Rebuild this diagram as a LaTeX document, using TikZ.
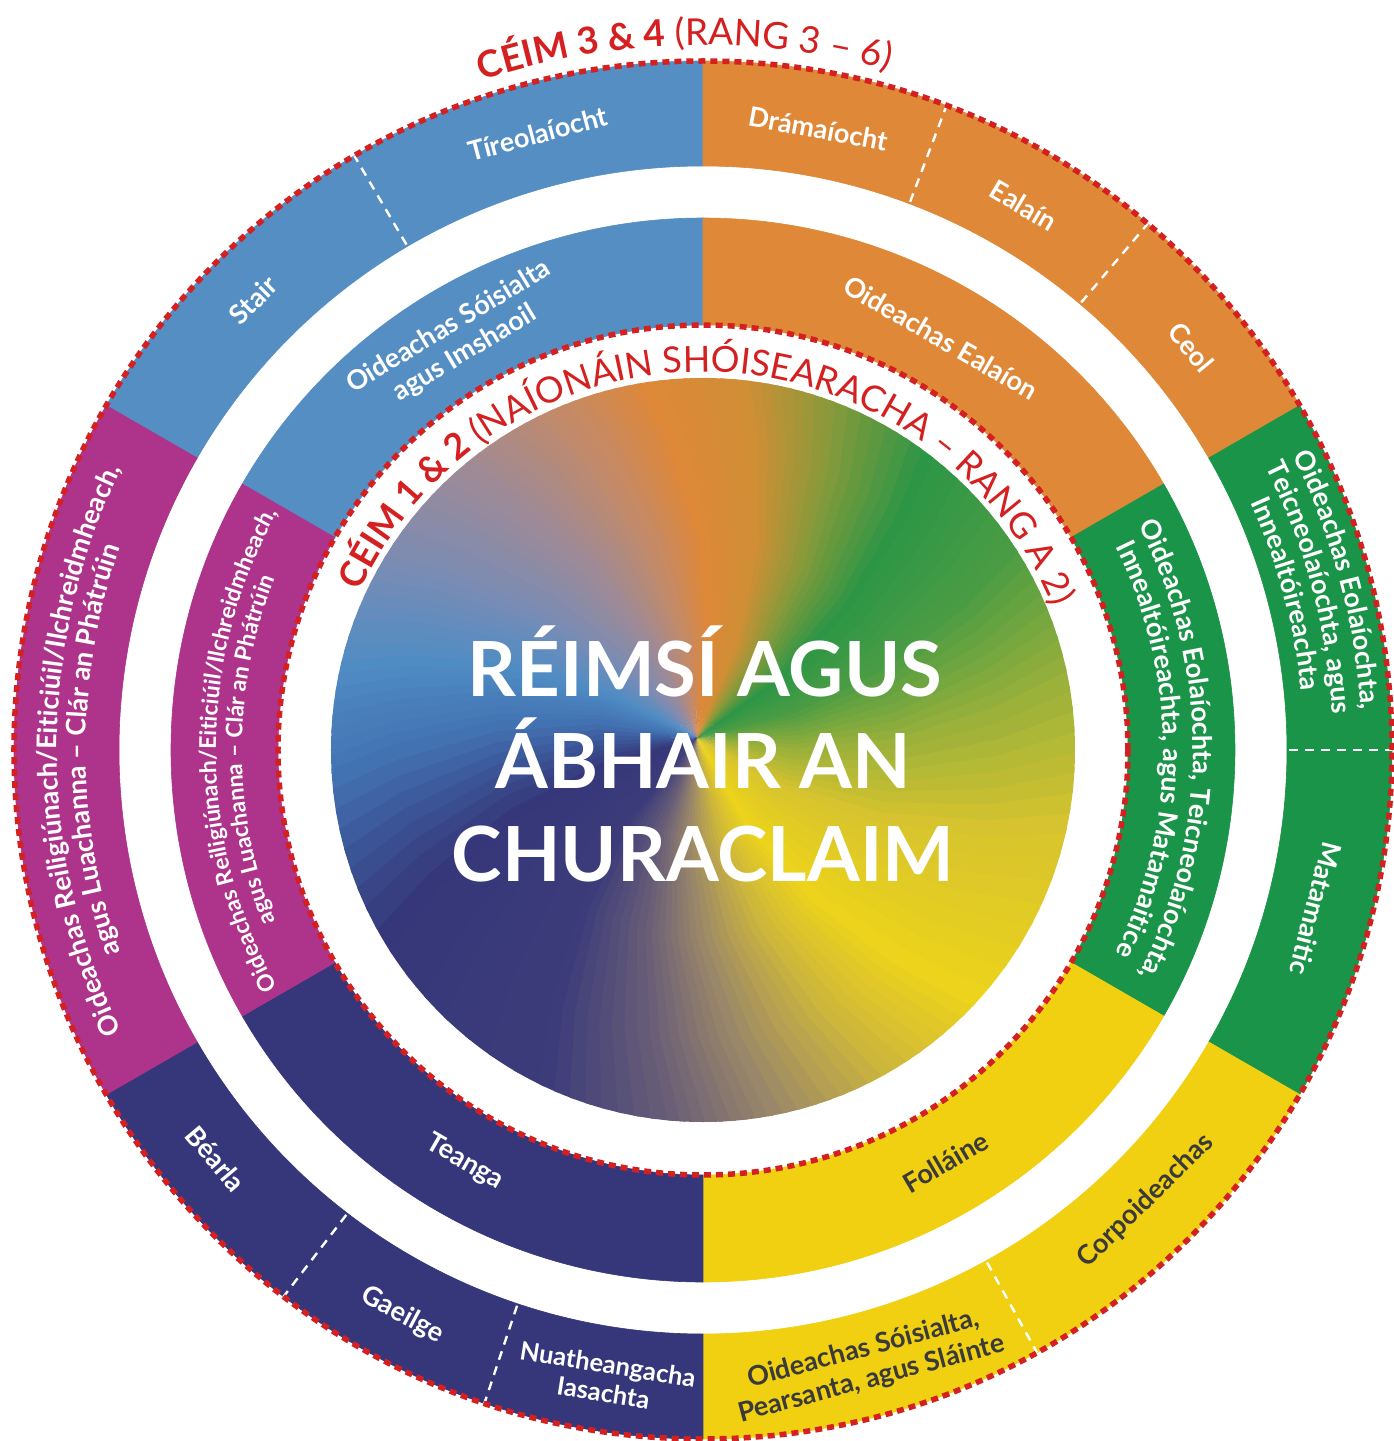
\documentclass[tikz,border=0pt]{standalone}
\usepackage{fontspec}
\setmainfont{Lato}
\usetikzlibrary{decorations.text}
\definecolor{cblue}{HTML}{558EC2}
\definecolor{corange}{HTML}{DF8838}
\definecolor{cgreen}{HTML}{1A9448}
\definecolor{cyellow}{HTML}{F0D011}
\definecolor{cnavy}{HTML}{35377A}
\definecolor{cmag}{HTML}{AE348B}
\definecolor{cred}{HTML}{D42020}
\definecolor{cdark}{HTML}{3A3A3A}
% gradient stops
\definecolor{sA}{HTML}{35377A}
\definecolor{sB}{HTML}{3D3C7A}
\definecolor{sC}{HTML}{6A5F77}
\definecolor{sD}{HTML}{9A8769}
\definecolor{sE}{HTML}{CDB63C}
\definecolor{sF}{HTML}{EDD31B}
\definecolor{sG}{HTML}{D6C32F}
\definecolor{sH}{HTML}{92AE3C}
\definecolor{sI}{HTML}{4A9C44}
\definecolor{sJ}{HTML}{2C9646}
\definecolor{sK}{HTML}{8A9A3A}
\definecolor{sL}{HTML}{D08E35}
\definecolor{sM}{HTML}{DE8838}
\definecolor{sN}{HTML}{C48A68}
\definecolor{sO}{HTML}{9E8A96}
\definecolor{sP}{HTML}{7A8CB4}
\definecolor{sQ}{HTML}{4F8CC4}
\definecolor{sR}{HTML}{4272B2}
\newcommand\mylabfont{\bfseries\fontsize{27}{31}\selectfont}
\newcommand\mysmallfont{\bfseries\fontsize{23}{27}\selectfont}
\newcommand\ceimbold{\color{cred}\bfseries\fontsize{37}{40}\selectfont}
\newcommand\ceimreg{\color{cred}\mdseries\fontsize{37}{40}\selectfont}
\newcommand\ceimboldi{\color{cred}\bfseries\fontsize{36}{38}\selectfont}
\newcommand\ceimregi{\color{cred}\mdseries\fontsize{36}{38}\selectfont}
\newcommand\ringseg[5]{\fill[#1,draw=#1,line width=0.6pt] (#2:#4) arc[start angle=#2,end angle=#3,radius=#4] -- (#3:#5) arc[start angle=#3,end angle=#2,radius=#5] -- cycle;}
\newcommand\curvetext[5]{\path[decorate,decoration={text along path,text align=center,text={|#4|#5}}] (#1+#3:#2) arc[start angle=#1+#3,end angle=#1-#3,radius=#2];}
\begin{document}
\begin{tikzpicture}[x=1pt,y=1pt,
  lab/.style={text=white,font=\mylabfont,align=center,inner sep=0pt},
  labd/.style={lab,text=cdark},
  titlestyle/.style={text=white,font=\bfseries\fontsize{76}{90}\selectfont,inner sep=0pt,anchor=base},
  divider/.style={draw=white,line width=2.4pt,dash pattern=on 9pt off 7pt},
  reddash/.style={draw=cred,line width=5.5pt,dash pattern=on 7pt off 5pt}]
\useasboundingbox (-703,-691) rectangle (690,750);
\fill[white] (-703,-691) rectangle (690,750);

% outer ring
\ringseg{cblue}{90}{150}{584}{689}
\ringseg{corange}{30}{90}{584}{689}
\ringseg{cgreen}{-30}{30}{584}{689}
\ringseg{cyellow}{-90}{-30}{584}{689}
\ringseg{cnavy}{-150}{-90}{584}{689}
\ringseg{cmag}{150}{210}{584}{689}
% inner ring
\ringseg{cblue}{90}{150}{425}{532}
\ringseg{corange}{30}{90}{425}{532}
\ringseg{cgreen}{-30}{30}{425}{532}
\ringseg{cyellow}{-90}{-30}{425}{532}
\ringseg{cnavy}{-150}{-90}{425}{532}
\ringseg{cmag}{150}{210}{425}{532}

% dividers in outer ring
\foreach \a in {120.4,69.3,49.8,0,-61,-108.5,-127.5}{
  \draw[divider] (\a:586) -- (\a:689);
}

% gradient disc
\begin{scope}
\clip (0,0) circle[radius=372];
\begin{scope}[shift={(-6,12)}]
\foreach \ta/\ca/\tb/\cb in {-160/sA/-125/sB,-125/sB/-105/sC,-105/sC/-90/sD,-90/sD/-72/sE,-72/sE/-55/sF,-55/sF/-25/sG,-25/sG/0/sH,0/sH/20/sI,20/sI/40/sJ,40/sJ/58/sK,58/sK/72/sL,72/sL/88/sM,88/sM/102/sN,102/sN/120/sO,120/sO/140/sP,140/sP/158/sQ,158/sQ/175/sR,175/sR/200/sA}{
  \foreach \j in {0,...,7}{
    \pgfmathsetmacro\A{\ta+(\tb-\ta)*\j/8}
    \pgfmathsetmacro\B{\ta+(\tb-\ta)*(\j+1)/8+0.8}
    \pgfmathtruncatemacro\p{\j*100/8}
    \fill[\cb!\p!\ca] (0,0) -- (\A-6:100) -- (\A:200) -- (\A+6:300) -- (\A+12:420) -- (\B+12:420) -- (\B+6:300) -- (\B:200) -- (\B-6:100) -- cycle;
  }
}
\end{scope}
\end{scope}

% red dashed circles
\draw[reddash] (0,0) circle[radius=689];
\draw[reddash] (0,0) circle[radius=425];

% title
\node[titlestyle] (t1) at (2,54) {RÉIMSÍ AGUS};
\node[titlestyle] (t2) at (0,-38) {ÁBHAIR AN};
\node[titlestyle] (t3) at (0,-131) {CHURACLAIM};

% stage labels
\path[decorate,decoration={text along path,text align=center,text={|\ceimbold|CÉIM 3 {\&} 4 |\ceimreg|(RANG 3 – 6)}}] (181.5:705) arc[start angle=181.5,end angle=1.5,radius=705];
\path[decorate,decoration={text along path,text align=center,text={|\ceimboldi|CÉIM 1 {\&} 2 |\ceimregi|(NAÍONÁIN SHÓISEARACHA – RANG A 2)}}] (178.7:378) arc[start angle=178.7,end angle=-1.3,radius=378];

% straight labels outer
\node[lab,rotate=15] (tireo) at (105:638) {Tíreolaíocht};
\node[lab,rotate=45] (stair) at (135:636) {Stair};
\node[lab,rotate=-10.5] (drama) at (79.5:632) {Drámaíocht};
\node[lab,rotate=-30.5] (ealain) at (59.5:632) {Ealaín};
\node[lab,rotate=-50.5] (ceol) at (39.5:633) {Ceol};
\node[lab,rotate=-104.5] (mata) at (-14.5:633) {Matamaitic};
\node[labd,rotate=44.5] (corp) at (-45.5:632) {Corpoideachas};
\node[labd,rotate=15] (osps) at (-75:636) {Oideachas Sóisialta,\\Pearsanta, agus Sláinte};
\node[lab,rotate=-9,font=\bfseries\fontsize{25.5}{29}\selectfont] (nua) at (-98.8:636) {Nuatheangacha\\Iasachta};
\node[lab,rotate=-28] (gaeilge) at (-118:640) {Gaeilge};
\node[lab,rotate=-50] (bearla) at (-140:636) {Béarla};
% straight labels inner
\node[lab,rotate=31] (osi) at (121:478) {Oideachas Sóisialta\\agus Imshaoil};
\node[lab,rotate=-30] (oea) at (60:476) {Oideachas Ealaíon};
\node[labd,rotate=30.5] (foll) at (-59.5:478) {Folláine};
\node[lab,rotate=-30] (teanga) at (-120:476) {Teanga};

% curved labels
\curvetext{180}{646}{80}{\mylabfont\color{white}}{Oideachas Reiligiúnach/Eiticiúil/Ilchreidmheach,}
\curvetext{180}{617}{80}{\mylabfont\color{white}}{agus Luachanna – Clár an Phátrúin}
\curvetext{180}{487}{80}{\mysmallfont\color{white}}{Oideachas Reiligiúnach/Eiticiúil/Ilchreidmheach,}
\curvetext{180}{461}{80}{\mysmallfont\color{white}}{agus Luachanna – Clár an Phátrúin}
\curvetext{0}{490}{80}{\mylabfont\color{white}}{Oideachas Eolaíochta, Teicneolaíochta,}
\curvetext{0}{460}{80}{\mylabfont\color{white}}{Innealtóireachta, agus Matamaitice}
\curvetext{15}{659}{60}{\mylabfont\color{white}}{Oideachas Eolaíochta,}
\curvetext{15}{630}{60}{\mylabfont\color{white}}{Teicneolaíochta, agus}
\curvetext{15}{601}{60}{\mylabfont\color{white}}{Innealtóireachta}
\end{tikzpicture}
\end{document}
